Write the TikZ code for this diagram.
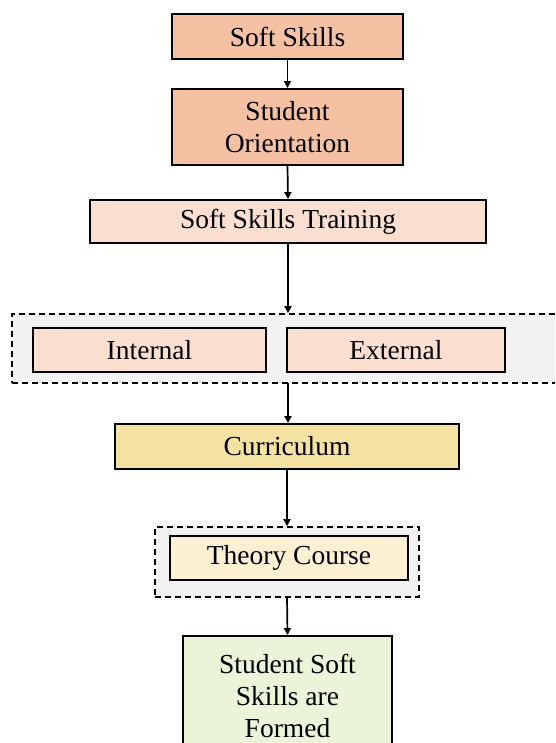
\documentclass[tikz,border=0pt]{standalone}
\usepackage{fontspec}
\setmainfont{Liberation Serif}
\usetikzlibrary{arrows.meta}
\definecolor{salmon}{HTML}{F4C1A2}
\definecolor{pinklight}{HTML}{FADFD1}
\definecolor{gold}{HTML}{F4E2A2}
\definecolor{cream}{HTML}{FBF1D2}
\definecolor{greenlight}{HTML}{EAF4D8}
\definecolor{grp}{HTML}{F2F2F2}
\tikzset{
  x=1pt, y=-1pt,
  box/.style={draw=black, line width=1.9pt, rectangle, align=center, inner sep=0pt,
    font=\fontsize{27.5}{32}\selectfont},
  grpbox/.style={draw=black, line width=1.7pt, dash pattern=on 6pt off 4pt, fill=grp, inner sep=0pt},
  arr/.style={line width=1.7pt, -{Triangle[length=7pt,width=7pt]}}
}
\begin{document}
\begin{tikzpicture}
\useasboundingbox (0,0) rectangle (555,743);
\clip (0,0) rectangle (555,743);
\fill[white] (0,0) rectangle (555,743);
\node[box, fill=salmon, minimum width=231pt, minimum height=45pt] (n1) at (287.5,36.5) {Soft Skills};
\node[box, fill=salmon, minimum width=231pt, minimum height=76pt] (n2) at (287.5,127) {Student\\Orientation};
\node[box, fill=pinklight, minimum width=396pt, minimum height=43pt] (n3) at (288,221.5) {Soft Skills Training};
\node[grpbox, minimum width=552pt, minimum height=69pt] (g1) at (288,348.5) {};
\node[box, fill=pinklight, minimum width=233pt, minimum height=44pt] (int) at (149.5,350) {Internal};
\node[box, fill=pinklight, minimum width=218pt, minimum height=44pt] (ext) at (396,350) {External};
\node[box, fill=gold, minimum width=344pt, minimum height=45pt] (cur) at (287,446.5) {Curriculum};
\node[grpbox, minimum width=264pt, minimum height=70pt] (g2) at (287,562) {};
\node[box, fill=cream, minimum width=238pt, minimum height=44pt] (th) at (289,558) {Theory Course};
\node[box, fill=greenlight, minimum width=209pt, minimum height=120pt] (fin) at (287.5,696) {Student Soft\\Skills are\\Formed};
\draw[arr] (n1.south) -- (n2.north);
\draw[arr] (n2.south) -- (n3.north);
\draw[arr] (n3.south) -- (n3.south |- g1.north);
\coordinate (g1b) at (288,383);
\draw[arr] (g1b) -- (g1b |- cur.north);
\draw[arr] (cur.south) -- (cur.south |- g2.north);
\draw[arr] (g2.south) -- (fin.north);
\end{tikzpicture}
\end{document}
